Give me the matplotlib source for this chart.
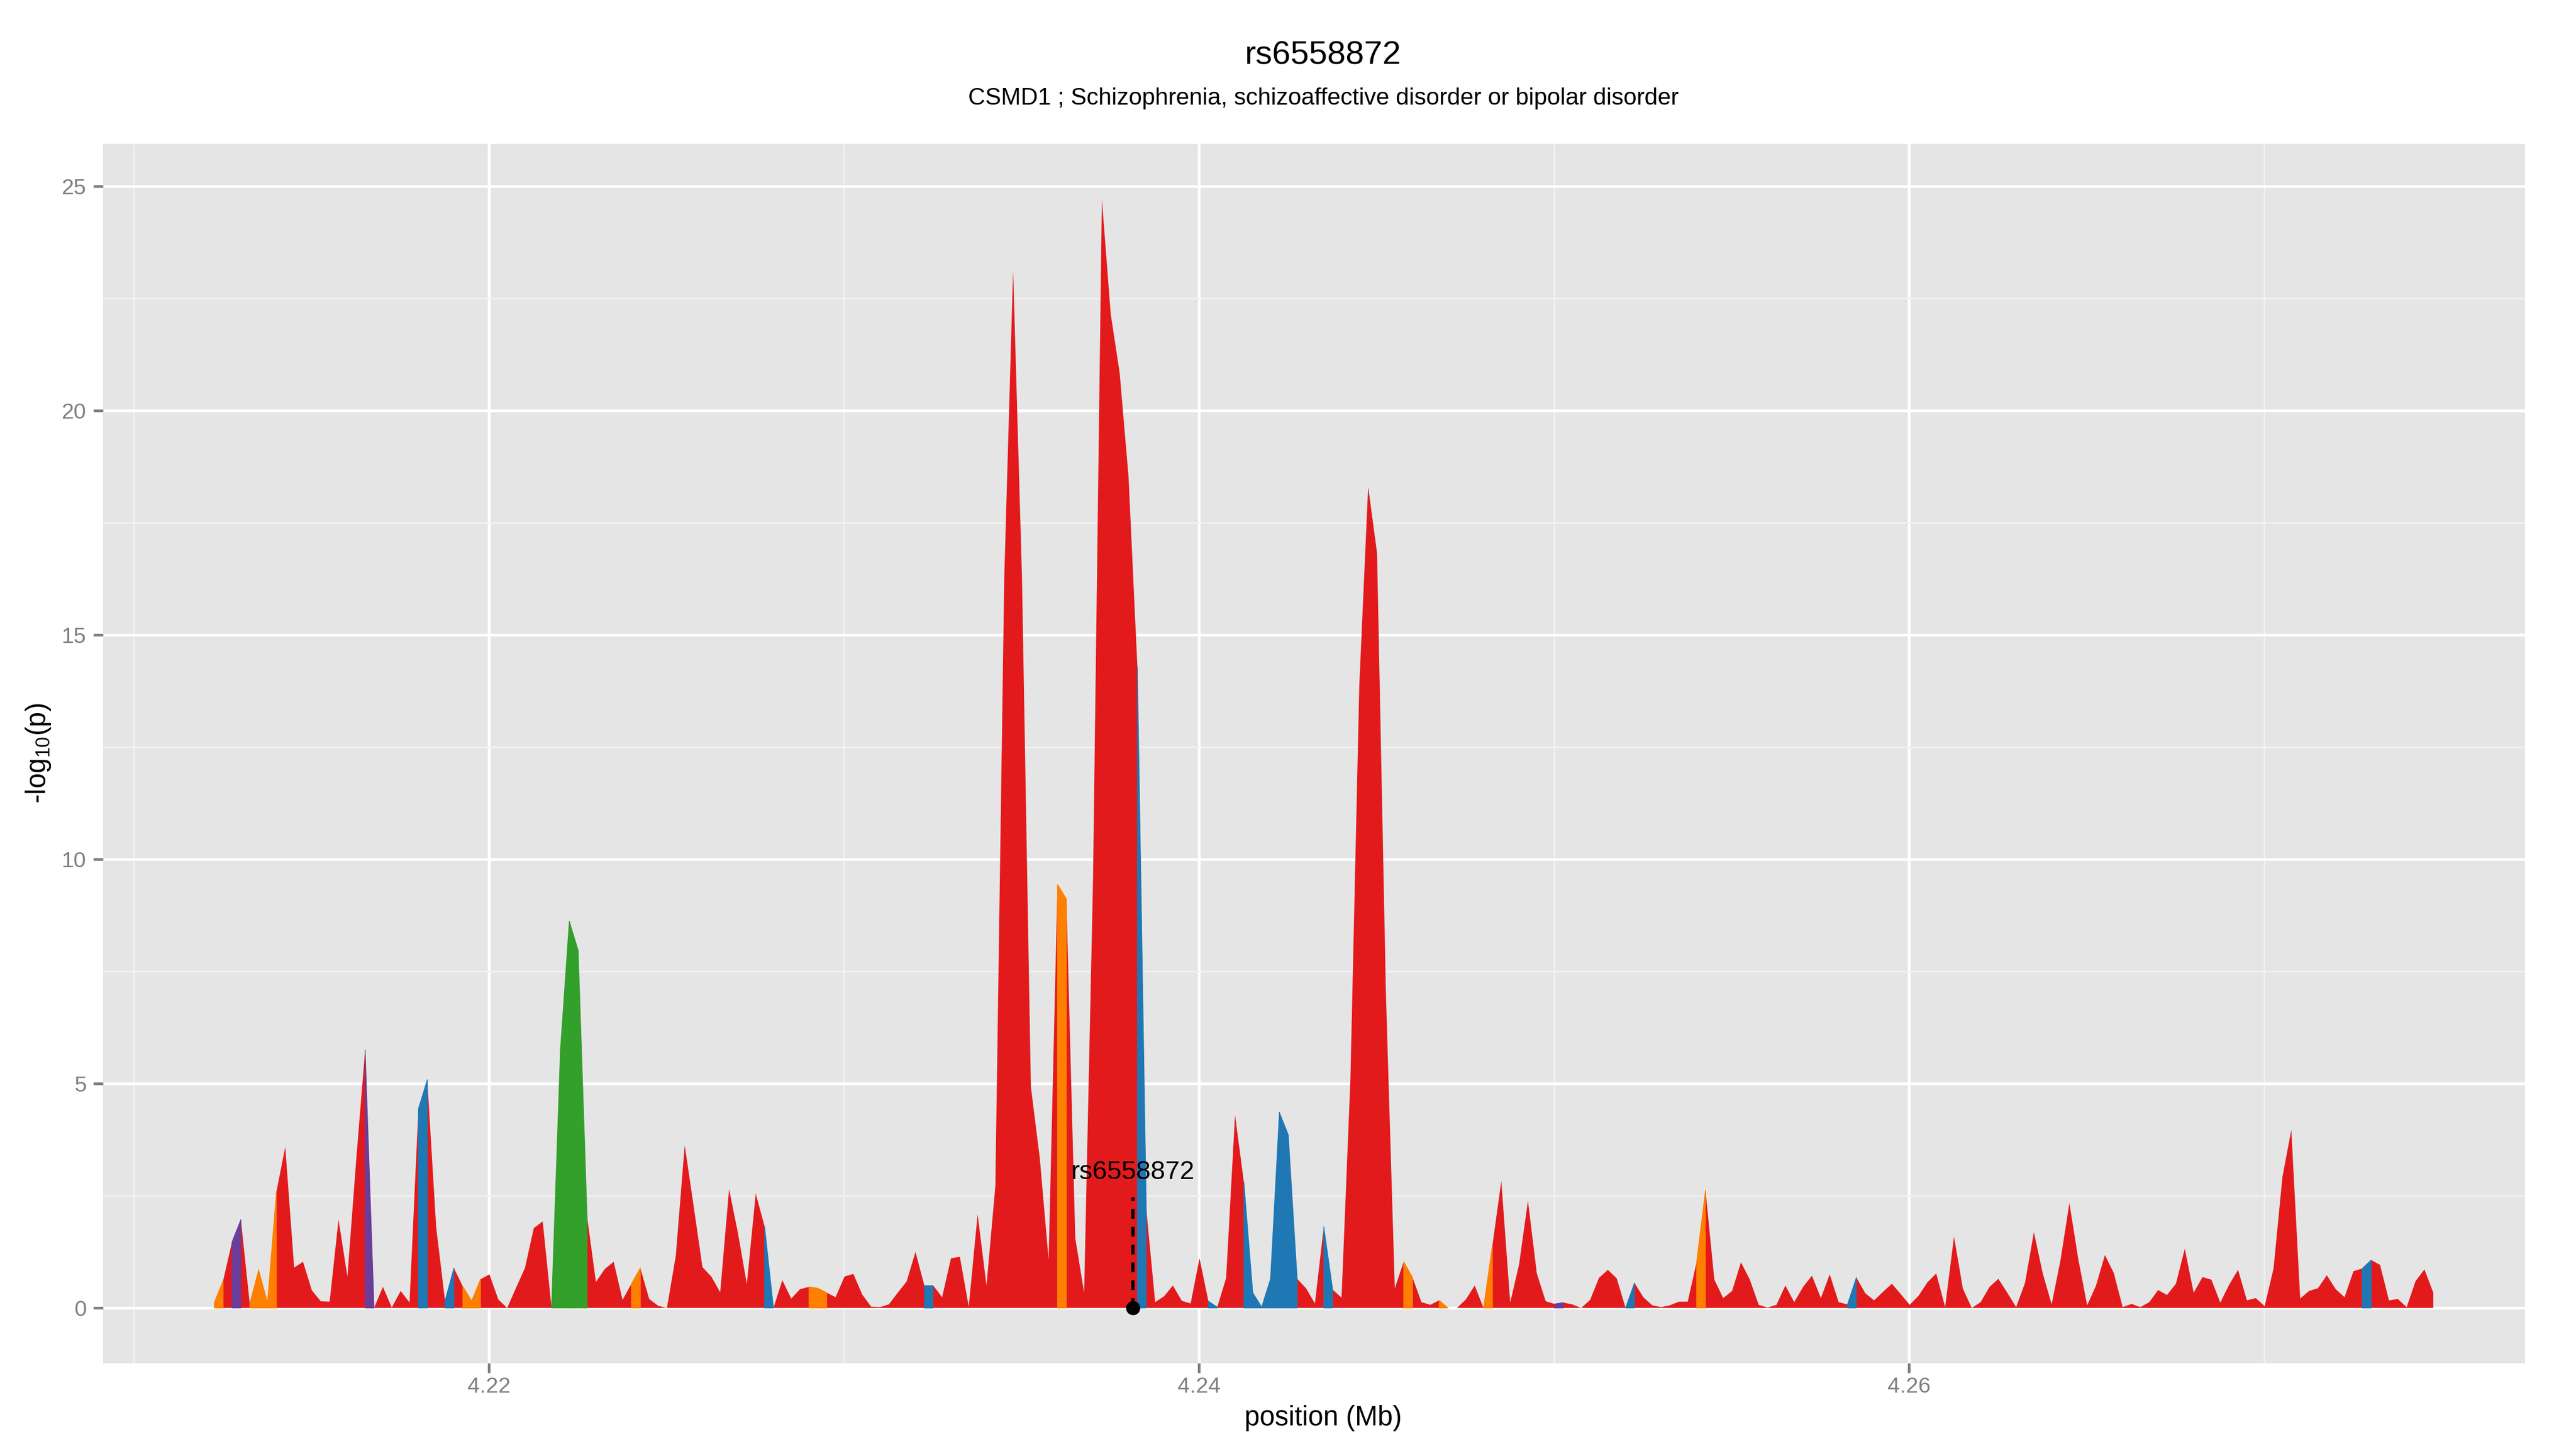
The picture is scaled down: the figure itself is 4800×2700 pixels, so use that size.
import numpy as np
import matplotlib
matplotlib.use("Agg")
import matplotlib.pyplot as plt

plt.rcParams['font.family'] = ['Liberation Sans', 'DejaVu Sans']
plt.rcParams['mathtext.fontset'] = 'custom'
plt.rcParams['mathtext.rm'] = 'Liberation Sans'
plt.rcParams['mathtext.it'] = 'Liberation Sans:italic'

# ---------------- data ----------------
TITLE = "rs6558872"
SUBTITLE = "CSMD1 ; Schizophrenia, schizoaffective disorder or bipolar disorder"
XLABEL = "position (Mb)"
YLABEL = "-log$_{10}$(p)"

POS_START_MB = 4.21226   # first position (Mb)
POS_STEP_MB = 0.00025    # spacing between positions (Mb)

neglog10p = [
    0.12, 0.61, 1.47, 1.97, 0.09, 0.85, 0.12, 2.59, 3.59, 0.90,
    1.03, 0.39, 0.15, 0.14, 1.97, 0.70, 3.32, 5.76, 0.00, 0.47,
    0.01, 0.38, 0.12, 4.44, 5.09, 1.80, 0.16, 0.89, 0.48, 0.16,
    0.64, 0.75, 0.19, 0.00, 0.45, 0.89, 1.78, 1.93, 0.00, 5.76,
    8.62, 7.97, 2.04, 0.58, 0.87, 1.03, 0.18, 0.54, 0.89, 0.20,
    0.05, 0.00, 1.17, 3.63, 2.28, 0.91, 0.70, 0.35, 2.65, 1.67,
    0.53, 2.55, 1.82, 0.00, 0.62, 0.21, 0.42, 0.47, 0.44, 0.34,
    0.24, 0.70, 0.76, 0.30, 0.03, 0.02, 0.08, 0.34, 0.59, 1.25,
    0.50, 0.50, 0.24, 1.11, 1.14, 0.03, 2.09, 0.50, 2.72, 16.27,
    23.14, 16.27, 4.93, 3.35, 1.07, 9.44, 9.12, 1.56, 0.34, 9.52,
    24.71, 22.15, 20.85, 18.54, 14.29, 2.21, 0.13, 0.26, 0.50, 0.16,
    0.10, 1.11, 0.15, 0.02, 0.67, 4.30, 2.80, 0.34, 0.02, 0.65,
    4.36, 3.86, 0.65, 0.44, 0.10, 1.81, 0.41, 0.23, 5.10, 13.88,
    18.31, 16.83, 7.00, 0.44, 1.03, 0.68, 0.13, 0.07, 0.17, 0.00,
    0.00, 0.19, 0.50, 0.00, 1.40, 2.83, 0.12, 0.97, 2.39, 0.77,
    0.15, 0.09, 0.12, 0.08, 0.00, 0.18, 0.67, 0.85, 0.66, 0.00,
    0.56, 0.24, 0.06, 0.02, 0.06, 0.14, 0.14, 1.02, 2.63, 0.63,
    0.22, 0.38, 1.02, 0.63, 0.07, 0.01, 0.07, 0.50, 0.13, 0.47,
    0.72, 0.22, 0.75, 0.13, 0.08, 0.68, 0.33, 0.17, 0.36, 0.54,
    0.31, 0.07, 0.27, 0.57, 0.77, 0.02, 1.59, 0.43, 0.00, 0.13,
    0.47, 0.65, 0.34, 0.02, 0.56, 1.69, 0.77, 0.08, 1.07, 2.34,
    1.09, 0.06, 0.50, 1.18, 0.78, 0.02, 0.09, 0.02, 0.13, 0.40,
    0.29, 0.54, 1.32, 0.34, 0.69, 0.63, 0.12, 0.52, 0.85, 0.17,
    0.22, 0.04, 0.88, 2.92, 3.97, 0.21, 0.38, 0.44, 0.73, 0.42,
    0.24, 0.82, 0.88, 1.07, 0.96, 0.17, 0.20, 0.02, 0.60, 0.86,
    0.34,
]

# segments (index i = span from point i to point i+1) that are not in the default class
orange_segments = [0, 4, 5, 6, 28, 29, 47, 67, 68, 95, 134, 138, 143, 167]
purple_segments = [2, 17, 151]
blue_segments = [23, 26, 62, 80, 104, 112, 116, 117, 118, 119, 120, 121, 125, 159, 184, 242]
green_segments = [38, 39, 40, 41]

lead_snp_label = "rs6558872"
lead_snp_pos = 4.23814
lead_snp_line_top = 2.46
lead_snp_label_y = 2.87

x_major_ticks = [4.22, 4.24, 4.26]
x_minor_ticks = [4.21, 4.23, 4.25, 4.27]
y_major_ticks = [0, 5, 10, 15, 20, 25]
y_minor_ticks = [2.5, 7.5, 12.5, 17.5, 22.5]
x_tick_labels = ["4.22", "4.24", "4.26"]
X_RIGHT_LIMIT = 4.27735

COLORS = {
    "red": "#E31A1C",
    "orange": "#FF7F00",
    "purple": "#6A3D9A",
    "blue": "#1F78B4",
    "green": "#33A02C",
}

# ---------------- plot ----------------
y = np.array(neglog10p)
x = POS_START_MB + POS_STEP_MB * np.arange(len(y))

W, H = 4800, 2700
fig = plt.figure(figsize=(16, 9), dpi=300)
pl, pr, pt, pb = 192, 4705, 268, 2540
ax = fig.add_axes([pl / W, 1 - pb / H, (pr - pl) / W, (pb - pt) / H])
ax.set_facecolor("#E5E5E5")
for s in ax.spines.values():
    s.set_visible(False)

# base area (default class)
ax.fill_between(x, 0, y, color=COLORS["red"], linewidth=0, zorder=2)

for cname, segs in (("orange", orange_segments), ("purple", purple_segments),
                    ("blue", blue_segments), ("green", green_segments)):
    for i in segs:
        ax.fill_between(x[i:i + 2], 0, y[i:i + 2], facecolor=COLORS[cname],
                        edgecolor=COLORS[cname], linewidth=0.3, zorder=3)

# lead SNP annotation
ax.plot([lead_snp_pos, lead_snp_pos], [0, lead_snp_line_top], color="black",
        lw=1.45, dashes=(3, 2.5), zorder=5, solid_capstyle="butt", dash_capstyle="butt")
ax.plot([lead_snp_pos], [0], "o", color="black", ms=5.3, zorder=6)
ax.text(lead_snp_pos, lead_snp_label_y, lead_snp_label, ha="center", va="baseline",
        fontsize=11.7, color="black", zorder=7)

# axes
xr = x[-1] - x[0]
ax.set_xlim(x[0] - 0.05 * xr, X_RIGHT_LIMIT)
yr = y.max() - 0
ax.set_ylim(0 - 0.05 * yr, y.max() + 0.05 * yr)

ax.set_xticks(x_major_ticks)
ax.set_xticklabels(x_tick_labels)
ax.set_xticks(x_minor_ticks, minor=True)
ax.set_yticks(y_major_ticks)
ax.set_yticks(y_minor_ticks, minor=True)

ax.set_axisbelow(True)
ax.grid(which="major", color="white", lw=1.25, zorder=0)
ax.grid(which="minor", color="#F2F2F2", lw=0.65, zorder=0)

ax.tick_params(which="major", length=4.3, width=1.2, color="#7F7F7F",
               labelcolor="#7F7F7F", labelsize=9.9)
ax.tick_params(axis="x", which="major", pad=1.8)
ax.tick_params(axis="y", which="major", pad=3.1)
ax.tick_params(which="minor", length=0)

# titles and labels
fig.text(2466 / W, 1 - 120 / H, TITLE, ha="center", va="baseline", fontsize=14.8)
fig.text(2466 / W, 1 - 195 / H, SUBTITLE, ha="center", va="baseline", fontsize=10.6)
fig.text(2466 / W, 1 - 2656 / H, XLABEL, ha="center", va="baseline", fontsize=12.2)
fig.text(72 / W, 1 - 1404 / H, YLABEL, ha="center", va="center", rotation=90, fontsize=12.2)

fig.savefig("out.png", dpi=300, facecolor="white")
